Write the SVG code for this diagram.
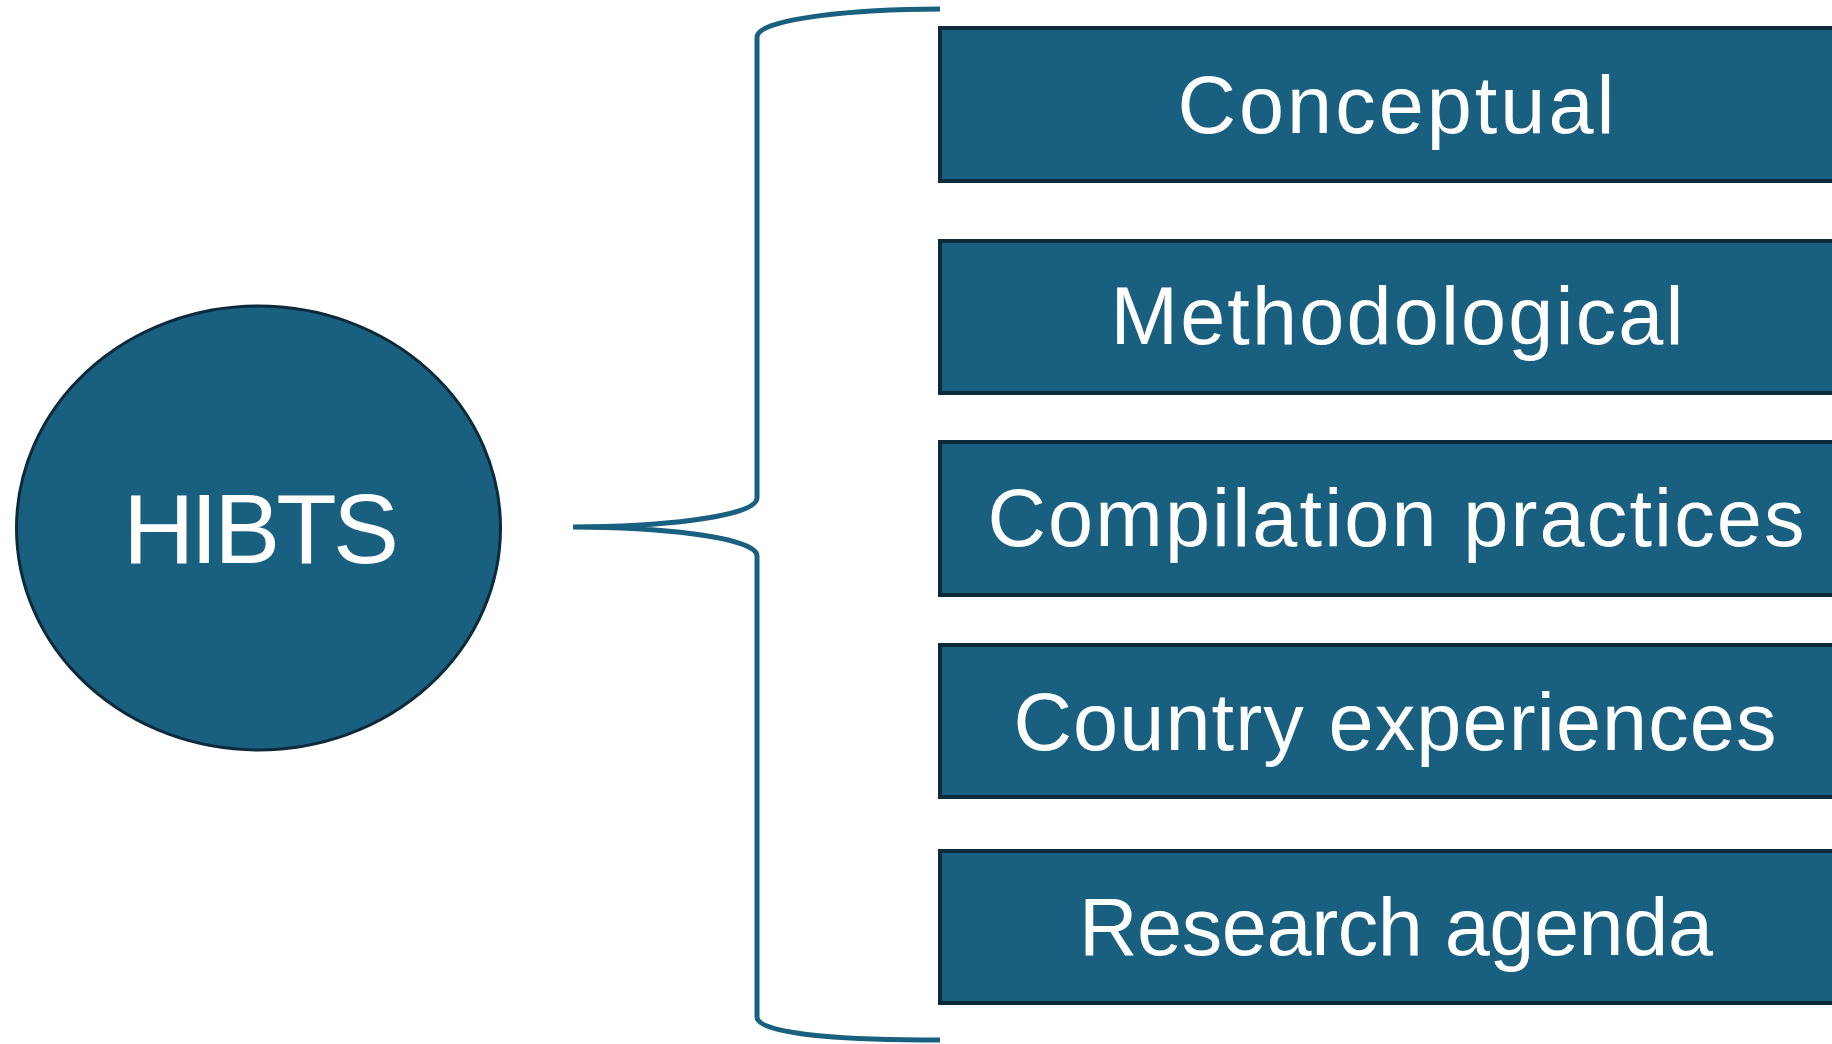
<svg xmlns="http://www.w3.org/2000/svg" width="1832" height="1044" viewBox="0 0 1832 1044">
<style>
.node{fill:#185f80;stroke:#0d2a3b;stroke-width:4}
.lbl{fill:#ffffff;font-family:"Liberation Sans",Arial,sans-serif;font-size:81px;text-anchor:middle}
.big{font-size:99px}
.brace{fill:none;stroke:#185f80;stroke-width:5;stroke-linecap:butt}
</style>
<rect width="1832" height="1044" fill="#ffffff"/>
<g id="connectors">
<path class="brace" d="M 940 9 C 860 9, 757 18, 757 37 L 757 498 C 757 518, 650 527, 573 527 C 650 527, 757 536, 757 556 L 757 1017 C 757 1036, 860 1040, 940 1040"/>
</g>
<g id="node-hibts">
<ellipse class="node" cx="258.5" cy="528" rx="242" ry="222" style="stroke-width:3"/>
<text class="lbl big" x="261" y="563" textLength="276">HIBTS</text>
</g>
<g id="node-conceptual">
<rect class="node" x="940" y="28" width="1000" height="153"/>
<text class="lbl" x="1396" y="133" textLength="437">Conceptual</text>
</g>
<g id="node-methodological">
<rect class="node" x="940" y="241" width="1000" height="152"/>
<text class="lbl" x="1397" y="344" textLength="573">Methodological</text>
</g>
<g id="node-compilation">
<rect class="node" x="940" y="442" width="1000" height="153"/>
<text class="lbl" x="1396" y="546" textLength="817">Compilation practices</text>
</g>
<g id="node-country">
<rect class="node" x="940" y="645" width="1000" height="152"/>
<text class="lbl" x="1395" y="750" textLength="763">Country experiences</text>
</g>
<g id="node-research">
<rect class="node" x="940" y="851" width="1000" height="152"/>
<text class="lbl" x="1396" y="955" textLength="634">Research agenda</text>
</g>
</svg>
